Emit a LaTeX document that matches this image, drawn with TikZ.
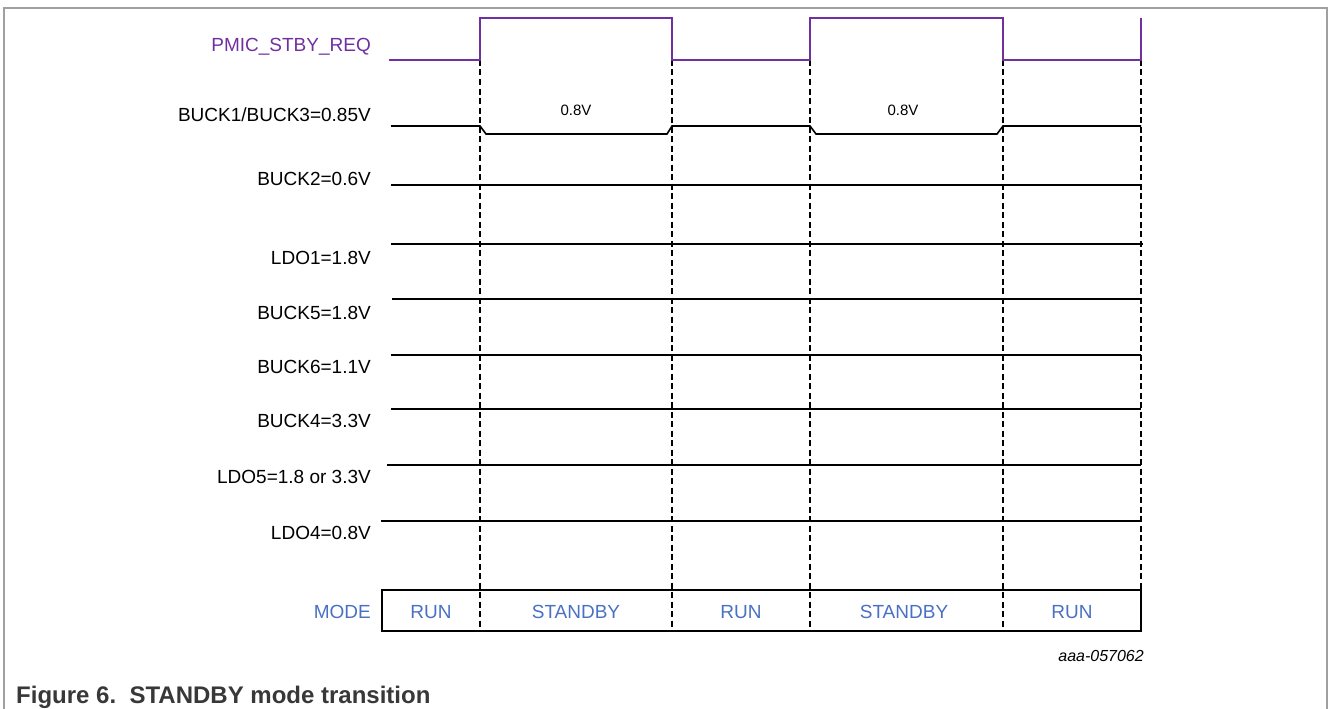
\documentclass[tikz,border=0pt]{standalone}
\usepackage{fontspec}
\setmainfont{Liberation Sans}
\usepackage{xcolor}
\usepackage{tikz}
\usetikzlibrary{positioning}

\definecolor{reqpurple}{HTML}{7030A0}
\definecolor{modeblue}{HTML}{4A70C4}
\definecolor{framegray}{HTML}{A0A0A0}
\definecolor{capgray}{HTML}{383838}

\begin{document}
\begin{tikzpicture}[
    x=1pt, y=-1pt,
    label/.style={
        anchor=east,
        inner sep=0pt,
        font=\fontsize{19}{21}\selectfont
    },
    modetxt/.style={
        inner sep=0pt,
        text=modeblue,
        font=\fontsize{19}{21}\selectfont
    },
    level/.style={
        inner sep=0pt,
        font=\fontsize{15}{17}\selectfont
    },
    rail/.style={
        line width=1.6pt
    },
    req/.style={
        line width=1.6pt,
        draw=reqpurple
    },
    edge/.style={
        line width=1.6pt,
        dash pattern=on 6pt off 3.5pt
    }
]
\useasboundingbox (0,0) rectangle (1328,709);

% frame
\draw[framegray, line width=1.2pt] (4,709) -- (4,8) -- (1327,8) -- (1327,709);

% signal names
\node[label, text=reqpurple] (reqlbl) at (371,47) {PMIC\_STBY\_REQ};
\node[label] (buck13) at (371,115) {BUCK1/BUCK3=0.85V};
\node[label] (buck2) at (371,179) {BUCK2=0.6V};
\node[label] (ldo1) at (371,258) {LDO1=1.8V};
\node[label] (buck5) at (371,313) {BUCK5=1.8V};
\node[label] (buck6) at (371,367) {BUCK6=1.1V};
\node[label] (buck4) at (371,421) {BUCK4=3.3V};
\node[label] (ldo5) at (371,477) {LDO5=1.8 or 3.3V};
\node[label] (ldo4) at (371,533) {LDO4=0.8V};
\node[label, text=modeblue] (modelbl) at (371,612) {MODE};

% transition instants
\coordinate (t1) at (480,60);
\coordinate (t2) at (672,60);
\coordinate (t3) at (810,60);
\coordinate (t4) at (1003,60);
\coordinate (t5) at (1141,60);
\coordinate (b1) at (480,631);
\coordinate (b2) at (672,631);
\coordinate (b3) at (810,631);
\coordinate (b4) at (1003,631);
\coordinate (b5) at (1141,631);

\draw[edge] (t1) -- (b1);
\draw[edge] (t2) -- (b2);
\draw[edge] (t3) -- (b3);
\draw[edge] (t4) -- (b4);
\draw[edge] (t5) -- (b5);

% standby request
\coordinate (req0) at (389,60);
\draw[req] (req0) -- (t1) -- (480,18) -- (672,18) -- (t2) -- (t3)
    -- (810,18) -- (1003,18) -- (t4) -- (t5) -- (1141,18);

% BUCK1/BUCK3 drops to 0.8V in standby
\draw[rail] (391,126) -- (480,126) -- (486,134) -- (667,134) -- (672,126)
    -- (810,126) -- (816,134) -- (997,134) -- (1003,126) -- (1141,126);
\node[level] (lvl1) at (576,110) {0.8V};
\node[level] (lvl2) at (903,110) {0.8V};

% rails that stay on
\draw[rail] (391,185) -- (1141,185);
\draw[rail] (391,244) -- (1143,244);
\draw[rail] (392,299) -- (1141,299);
\draw[rail] (391,355) -- (1141,355);
\draw[rail] (391,409) -- (1141,409);
\draw[rail] (387,465) -- (1141,465);
\draw[rail] (381,521) -- (1141,521);

% mode row
\draw[line width=1.6pt] (382,590) rectangle (1141,631);
\node[modetxt] (run1) at (431,612) {RUN};
\node[modetxt] (stby1) at (576,612) {STANDBY};
\node[modetxt] (run2) at (741,612) {RUN};
\node[modetxt] (stby2) at (904,612) {STANDBY};
\node[modetxt] (run3) at (1072,612) {RUN};

\node[anchor=east, inner sep=0pt, font=\fontsize{16}{18}\selectfont\itshape]
    (artno) at (1144,656) {aaa-057062};

\node[anchor=west, inner sep=0pt, text=capgray, font=\fontsize{24}{26}\selectfont\bfseries]
    (caption) at (16,697) {Figure 6.\ \ STANDBY mode transition};

\end{tikzpicture}
\end{document}
